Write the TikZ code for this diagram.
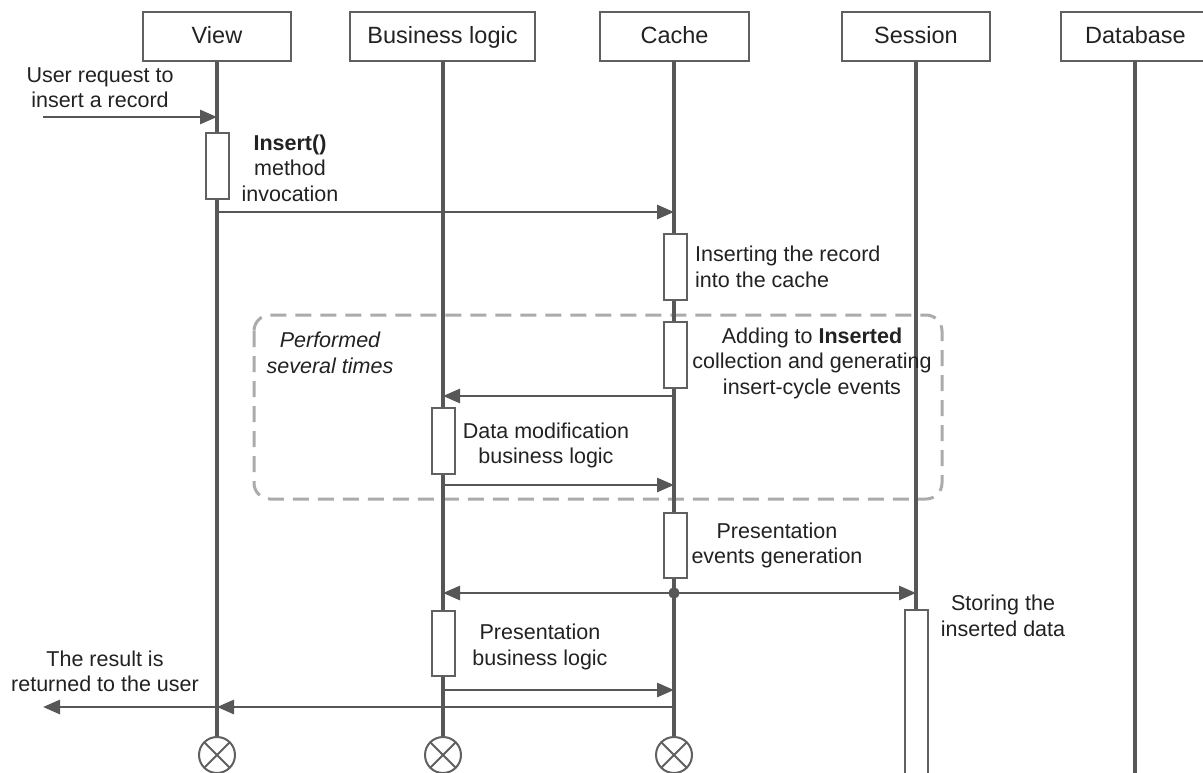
\documentclass[tikz,border=0pt]{standalone}
\usepackage{fontspec}
\setmainfont{Liberation Sans}
\usetikzlibrary{arrows.meta}
\definecolor{linegray}{HTML}{575757}
\definecolor{boxgray}{HTML}{606060}
\definecolor{dashgray}{HTML}{ABABAB}
\definecolor{txt}{HTML}{222222}

\begin{document}
\begin{tikzpicture}[x=1pt,y=-1pt,
  head/.style={draw=boxgray, line width=2.8pt, fill=white, minimum height=49pt,
    inner sep=0pt, text height=18pt, text depth=4pt,
    font=\fontsize{23.5}{28}\selectfont, text=txt},
  act/.style={draw=boxgray, line width=2pt, fill=white, minimum width=23pt, inner sep=0pt},
  life/.style={draw=linegray, line width=3.3pt},
  msg/.style={draw=linegray, line width=2.8pt, -{Triangle[length=17pt,width=14pt]}},
  lbl/.style={font=\fontsize{21.5}{25.5}\selectfont, text=txt, align=center, inner sep=0pt},
  lblleft/.style={lbl, align=left, anchor=west},
  endmark/.style={circle, draw=boxgray, line width=2pt, minimum size=36pt, inner sep=0pt,
    fill=white, path picture={
      \draw[boxgray, line width=2pt]
        (path picture bounding box.north west) -- (path picture bounding box.south east)
        (path picture bounding box.north east) -- (path picture bounding box.south west);}},
  dot/.style={circle, fill=linegray, inner sep=0pt, minimum size=11pt},
]
\useasboundingbox (0,0) rectangle (1203,773);
\clip (0,0) rectangle (1203,773);
\fill[white] (0,0) rectangle (1203,773);

% repeated-fragment frame
\draw[dashgray, line width=3pt, dash pattern=on 16pt off 9pt, rounded corners=16pt]
  (254,315) rectangle (942,499);

% participants
\node[head, minimum width=148pt] (view) at (217,36.5) {View};
\node[head, minimum width=185pt] (bl)   at (442.5,36.5) {Business logic};
\node[head, minimum width=149pt] (cache) at (674.5,36.5) {Cache};
\node[head, minimum width=148pt] (sess) at (916,36.5) {Session};
\node[head, minimum width=149pt] (db)   at (1135.5,36.5) {Database};

% lifeline ends
\node[endmark] (viewend)  at (217,755) {};
\node[endmark] (blend)    at (443,755) {};
\node[endmark] (cacheend) at (674,755) {};
\coordinate (sessend) at (916,775);
\coordinate (dbend) at (1135,775);

% lifelines
\draw[life] (view.south) -- (viewend.north);
\draw[life] (443,61) -- (blend.north);
\draw[life] (674,61) -- (cacheend.north);
\draw[life] (sess.south) -- (sessend);
\draw[life] (1135,61) -- (dbend);

% activations
\node[act, minimum height=66pt] (va)  at (217,166) {};
\node[act, minimum height=66pt] (ca1) at (675,267) {};
\node[act, minimum height=66pt] (ca2) at (675,355) {};
\node[act, minimum height=66pt] (ba1) at (443,441) {};
\node[act, minimum height=65pt] (ca3) at (675,545.5) {};
\node[act, minimum height=65pt] (ba2) at (443,643.5) {};
\node[act, minimum height=170pt] (sa) at (916,695) {};

% message end points
\coordinate (userin)  at (43,117);
\coordinate (viewin)  at (217,117);
\coordinate (m1s) at (217,212);
\coordinate (m1e) at (674,212);
\coordinate (m2s) at (674,396);
\coordinate (m2e) at (443,396);
\coordinate (m3s) at (443,485);
\coordinate (m3e) at (674,485);
\node[dot] (fork) at (674,593) {};
\coordinate (m4bl) at (443,593);
\coordinate (m4ss) at (916,593);
\coordinate (m5s) at (443,690);
\coordinate (m5e) at (674,690);
\coordinate (m6s) at (674,707);
\coordinate (m6e) at (217,707);
\coordinate (userout) at (43,707);

% messages
\draw[msg] (userin) -- (viewin);
\draw[msg] (m1s) -- (m1e);
\draw[msg] (m2s) -- (m2e);
\draw[msg] (m3s) -- (m3e);
\draw[msg] (fork.center) -- (m4bl);
\draw[msg] (fork.center) -- (m4ss);
\draw[msg] (m5s) -- (m5e);
\draw[msg] (m6s) -- (m6e);
\draw[msg] (m6e) -- (userout);
\node[dot] at (fork) {};

% labels
\node[lbl] (t1) at (100,87.5) {User request to\\insert a record};
\node[lbl] (t2) at (290,168) {\textbf{Insert()}\\method\\invocation};
\node[lblleft] (t3) at (695,267) {Inserting the record\\into the cache};
\node[lbl] (t4) at (812,363) {Adding to \textbf{Inserted}\\collection and generating\\insert-cycle events};
\node[lbl, font=\fontsize{21.5}{25.5}\selectfont\itshape] (t5) at (330,353) {Performed\\several times};
\node[lbl] (t6) at (546,445.5) {Data modification\\business logic};
\node[lbl] (t7) at (777,545.5) {Presentation\\events generation};
\node[lbl] (t8) at (1003,616) {Storing the\\inserted data};
\node[lbl] (t9) at (540,647) {Presentation\\business logic};
\node[lbl] (t10) at (105,671.5) {The result is\\returned to the user};
\end{tikzpicture}
\end{document}
